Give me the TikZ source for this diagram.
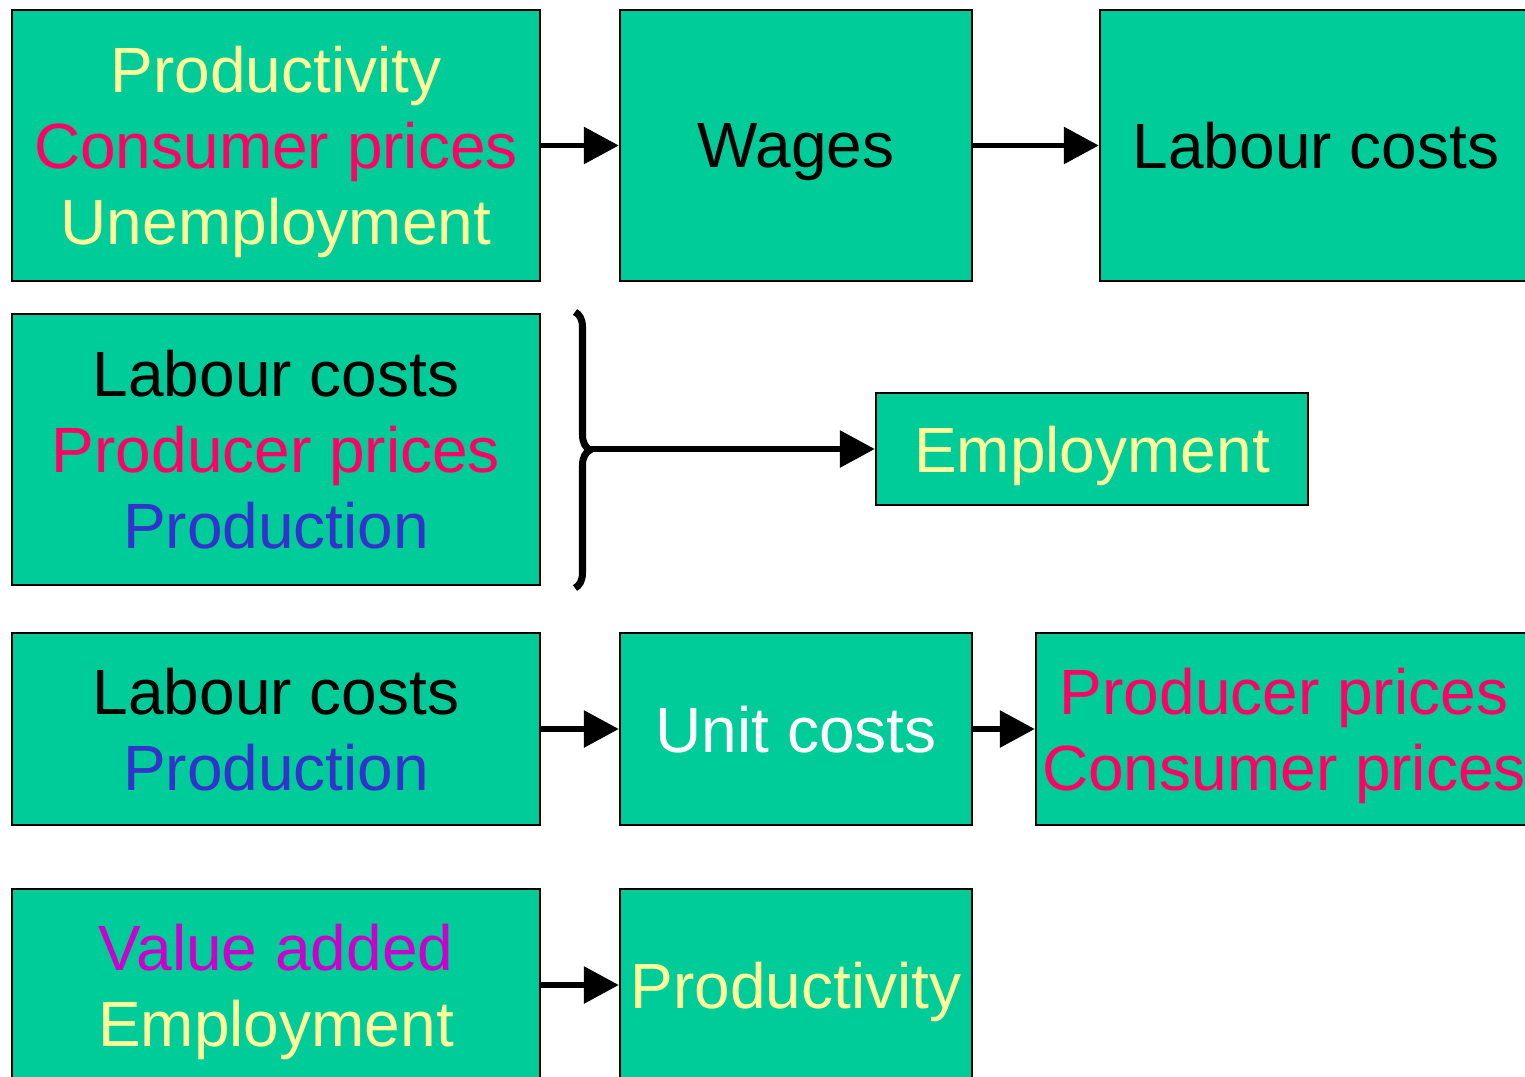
\documentclass[tikz,border=0pt]{standalone}
\usepackage{fontspec}
\setmainfont{Liberation Sans}
\usetikzlibrary{arrows.meta,decorations.pathreplacing}
\definecolor{boxgreen}{RGB}{0,204,153}
\definecolor{paleyellow}{RGB}{255,255,153}
\definecolor{hotpink}{RGB}{255,0,102}
\definecolor{inkblue}{RGB}{51,51,204}
\definecolor{plum}{RGB}{204,0,204}
\tikzset{
  box/.style={draw=black, line width=0.6pt, fill=boxgreen, inner sep=0pt, align=center,
    text depth=0pt, font=\fontsize{18.2}{21.6}\selectfont},
  link/.style={line width=1.7pt, -{Triangle[length=0.35cm,width=0.36cm]}}
}
\begin{document}
\begin{tikzpicture}[x=0.01cm,y=-0.01cm]
\clip (0,0) rectangle (1525,1076);

\node[box, minimum width=5.28cm, minimum height=2.71cm] (inputs) at (276,145.5)
  {\textcolor{paleyellow}{Productivity}\\\textcolor{hotpink}{Consumer prices}\\\textcolor{paleyellow}{Unemployment}};
\node[box, minimum width=3.52cm, minimum height=2.71cm] (wages) at (796,145.5) {Wages};
\node[box, minimum width=4.32cm, minimum height=2.71cm] (labour) at (1316,145.5) {Labour costs};

\node[box, minimum width=5.28cm, minimum height=2.71cm] (factors) at (276,449.5)
  {Labour costs\\\textcolor{hotpink}{Producer prices}\\\textcolor{inkblue}{Production}};
\node[box, minimum width=4.32cm, minimum height=1.12cm] (employ) at (1092,449) {\textcolor{paleyellow}{Employment}};

\node[box, minimum width=5.28cm, minimum height=1.92cm] (costin) at (276,729)
  {Labour costs\\\textcolor{inkblue}{Production}};
\node[box, minimum width=3.52cm, minimum height=1.92cm] (unit) at (796,729) {\textcolor{white}{Unit costs}};
\node[box, minimum width=4.96cm, minimum height=1.92cm] (prices) at (1284,729)
  {\textcolor{hotpink}{Producer prices}\\\textcolor{hotpink}{Consumer prices}};

\node[box, minimum width=5.28cm, minimum height=1.92cm] (valemp) at (276,985)
  {\textcolor{plum}{Value added}\\\textcolor{paleyellow}{Employment}};
\node[box, minimum width=3.52cm, minimum height=1.92cm] (product) at (796,985) {\textcolor{paleyellow}{Productivity}};

\draw[link] (inputs.east) -- (wages.west);
\draw[link] (wages.east) -- (labour.west);

\draw[decorate, decoration={brace,amplitude=0.15cm}, line width=2pt] (575,312) -- (575,588);
\coordinate (tip) at (590,449);
\draw[link] (tip) -- (employ.west);

\draw[link] (costin.east) -- (unit.west);
\draw[link] (unit.east) -- (prices.west);
\draw[link] (valemp.east) -- (product.west);
\end{tikzpicture}
\end{document}
